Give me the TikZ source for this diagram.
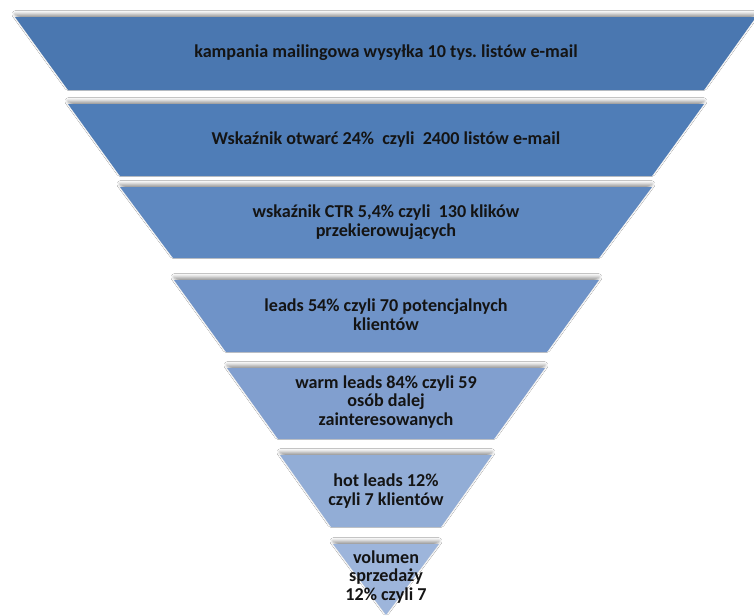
\documentclass[tikz,border=0pt]{standalone}
\usepackage{fontspec}
\setmainfont{Carlito}
\usetikzlibrary{shadows.blur}
\definecolor{cA}{HTML}{4A77B0}
\definecolor{cB}{HTML}{4F7DB7}
\definecolor{cC}{HTML}{5E88C0}
\definecolor{cD}{HTML}{6F93C8}
\definecolor{cE}{HTML}{819FCF}
\definecolor{cF}{HTML}{92ADD6}
\definecolor{cG}{HTML}{9DB5DB}
\definecolor{txt}{HTML}{141414}
\tikzset{
  level/.style={fill=#1, draw=none, blur shadow={shadow xshift=0pt, shadow yshift=2.2pt, shadow blur radius=2.5pt, shadow opacity=40}},
  lbl/.style={text=txt, font=\bfseries\fontsize{13.6}{14.2}\selectfont, align=center, inner sep=0pt}
}
\frenchspacing
\begin{document}
\begin{tikzpicture}[x=0.75pt, y=-0.75pt]
\useasboundingbox[fill=white] (0,0) rectangle (754,615);
% level 1
\path[level=cA] (15,17) -- (756,17) -- (704,90) -- (68,90) -- cycle;
\node[lbl] (t1) at (386,53) {kampania mailingowa wysyłka 10 tys.\ listów e-mail};
% level 2
\path[level=cB] (68,104) -- (704,104) -- (652,176) -- (120,176) -- cycle;
\node[lbl] (t2) at (386,140) {Wskaźnik otwarć 24\%\ \ czyli\ \ 2400 listów e-mail};
% level 3
\path[level=cC] (120,187) -- (652,187) -- (599,258) -- (173,258) -- cycle;
\node[lbl] (t3) at (386,222) {wskaźnik CTR 5,4\% czyli\ \ 130 klików\\przekierowujących};
% level 4
\path[level=cD] (174,280) -- (599,280) -- (547,352) -- (226,352) -- cycle;
\node[lbl] (t4) at (386,315) {leads 54\% czyli 70 potencjalnych\\klientów};
% level 5
\path[level=cE] (227,368) -- (545,368) -- (494,439) -- (278,439) -- cycle;
\node[lbl] (t5) at (386,402) {warm leads 84\% czyli 59\\osób dalej\\zainteresowanych};
% level 6
\path[level=cF] (280,455) -- (492,455) -- (441,527) -- (331,527) -- cycle;
\node[lbl] (t6) at (386,491) {hot leads 12\%\\czyli 7 klientów};
% triangle
\path[level=cG] (333,544) -- (439,544) -- (386,615) -- cycle;
\node[lbl] (t7) at (386,577) {volumen\\sprzedaży\\12\% czyli 7};
\end{tikzpicture}
\end{document}
